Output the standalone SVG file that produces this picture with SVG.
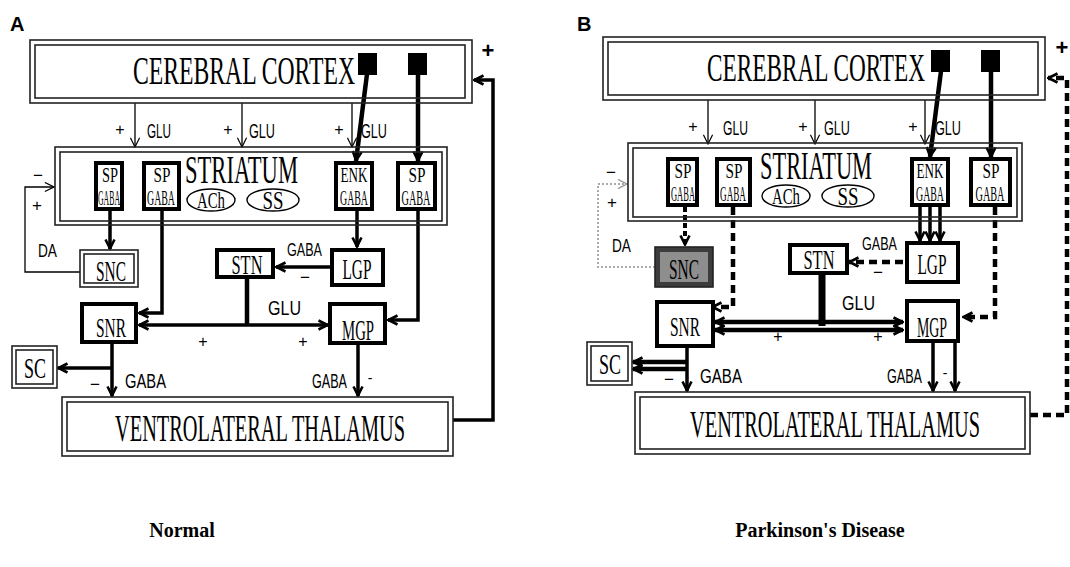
<svg xmlns="http://www.w3.org/2000/svg" width="1070" height="567" viewBox="0 0 1070 567">
<defs>
<style>
.bg{fill:#fff}
.dbl{fill:none;stroke:#222;stroke-width:1.6}
.thk{fill:#fff;stroke:#000;stroke-width:4}
.sq{fill:#000}
.thin{fill:none;stroke:#000;stroke-width:1.3}
.c3{fill:none;stroke:#000;stroke-width:3.5}
.c4{fill:none;stroke:#000;stroke-width:4.5}
.dash{fill:none;stroke:#000;stroke-width:4.5;stroke-dasharray:8 5}
.ell{fill:#fff;stroke:#000;stroke-width:1.4}
.serif{font-family:"Liberation Serif",serif;fill:#000}
.sans{font-family:"Liberation Sans",sans-serif;fill:#000}
.mid{text-anchor:middle}
.sign{font-family:"Liberation Sans",sans-serif;text-anchor:middle;fill:#000}
.panel{font-family:"Liberation Sans",sans-serif;font-weight:bold;font-size:20px;fill:#000}
.cap{font-family:"Liberation Serif",serif;font-weight:bold;font-size:20px;fill:#000;text-anchor:middle}
</style>
<marker id="ah" viewBox="0 0 12 12" refX="11" refY="6" markerWidth="11" markerHeight="11" markerUnits="userSpaceOnUse" orient="auto-start-reverse"><path d="M1,1 L11,6 L1,11" fill="none" stroke="#000" stroke-width="1.3"/></marker>
<marker id="ahB" viewBox="0 0 12 12" refX="11" refY="6" markerWidth="12" markerHeight="12" markerUnits="userSpaceOnUse" orient="auto-start-reverse"><path d="M1.5,1.5 L10.5,6 L1.5,10.5" fill="none" stroke="#000" stroke-width="2.6"/></marker>
<marker id="ahG" viewBox="0 0 12 12" refX="11" refY="6" markerWidth="11" markerHeight="11" markerUnits="userSpaceOnUse" orient="auto"><path d="M1,1 L11,6 L1,11" fill="none" stroke="#999" stroke-width="1.5"/></marker>
</defs>
<rect class="bg" x="0" y="0" width="1070" height="567"/>

<text class="panel" x="10" y="31">A</text>
<text class="panel" x="577" y="31">B</text>

<!-- ================= PANEL A ================= -->
<g id="panelA">
<g id="connectorsA">
  <line class="thin" x1="135" y1="103" x2="135" y2="147" marker-end="url(#ah)"/>
  <line class="thin" x1="242" y1="103" x2="242" y2="147" marker-end="url(#ah)"/>
  <line class="thin" x1="352" y1="103" x2="352" y2="147" marker-end="url(#ah)"/>
  <line class="c4" x1="367" y1="74" x2="356" y2="161" marker-end="url(#ahB)"/>
  <line class="c4" x1="418" y1="74" x2="418" y2="161" marker-end="url(#ahB)"/>
  <line class="c3" x1="110" y1="211" x2="110" y2="249" marker-end="url(#ahB)"/>
  <polyline class="c3" points="162,211 162,313 139,313" marker-end="url(#ahB)"/>
  <line class="c3" x1="357" y1="211" x2="357" y2="247" marker-end="url(#ahB)"/>
  <line class="c3" x1="330" y1="267" x2="276" y2="267" marker-end="url(#ahB)"/>
  <line class="c4" x1="247" y1="279" x2="247" y2="325"/>
  <line class="c3" x1="139" y1="325" x2="328" y2="325" marker-start="url(#ahB)" marker-end="url(#ahB)"/>
  <polyline class="c3" points="418,211 418,320 388,320" marker-end="url(#ahB)"/>
  <line class="c3" x1="112" y1="344" x2="112" y2="396" marker-end="url(#ahB)"/>
  <line class="c3" x1="112" y1="368" x2="58" y2="368" marker-end="url(#ahB)"/>
  <line class="c3" x1="358" y1="345" x2="358" y2="396" marker-end="url(#ahB)"/>
  <polyline class="c3" points="453,420 493,420 493,80 474,80" marker-end="url(#ahB)"/>
  <polyline class="thin" points="80,272 25,272 25,187 54,187" marker-end="url(#ah)"/>
</g>

<g id="cortexA">
  <rect class="dbl" x="30" y="40" width="442" height="63"/>
  <rect class="dbl" x="35" y="45" width="430" height="53"/>
  <text class="serif" x="133" y="84" font-size="39" textLength="222" lengthAdjust="spacingAndGlyphs">CEREBRAL CORTEX</text>
  <rect class="sq" x="358" y="53" width="19" height="22"/>
  <rect class="sq" x="408" y="53" width="19" height="22"/>
</g>

<g id="striatumA">
  <rect class="dbl" x="55" y="147" width="392" height="78"/>
  <rect class="dbl" x="60" y="152" width="382" height="69"/>
  <text class="serif" x="185" y="183" font-size="39" textLength="113" lengthAdjust="spacingAndGlyphs">STRIATUM</text>
  <ellipse class="ell" cx="211" cy="200" rx="24" ry="11"/>
  <text class="serif mid" x="211" y="208" font-size="24" textLength="28" lengthAdjust="spacingAndGlyphs">ACh</text>
  <ellipse class="ell" cx="273" cy="200" rx="26" ry="11"/>
  <text class="serif mid" x="273" y="209" font-size="26" textLength="21" lengthAdjust="spacingAndGlyphs">SS</text>
</g>
<g id="sp1A">
  <rect class="thk" x="96" y="163" width="26" height="46"/>
  <text class="serif mid" x="110" y="182" font-size="21" textLength="16" lengthAdjust="spacingAndGlyphs">SP</text>
  <text class="serif mid" x="109" y="205" font-size="22" textLength="22" lengthAdjust="spacingAndGlyphs">GABA</text>
</g>
<g id="sp2A">
  <rect class="thk" x="144" y="163" width="35" height="46"/>
  <text class="serif mid" x="162" y="182" font-size="21" textLength="17" lengthAdjust="spacingAndGlyphs">SP</text>
  <text class="serif mid" x="161" y="205" font-size="22" textLength="28" lengthAdjust="spacingAndGlyphs">GABA</text>
</g>
<g id="enkA">
  <rect class="thk" x="336" y="163" width="36" height="46"/>
  <text class="serif mid" x="354" y="182" font-size="20" textLength="27" lengthAdjust="spacingAndGlyphs">ENK</text>
  <text class="serif mid" x="354" y="205" font-size="22" textLength="28" lengthAdjust="spacingAndGlyphs">GABA</text>
</g>
<g id="sp3A">
  <rect class="thk" x="398" y="163" width="37" height="46"/>
  <text class="serif mid" x="417" y="182" font-size="21" textLength="17" lengthAdjust="spacingAndGlyphs">SP</text>
  <text class="serif mid" x="416" y="205" font-size="22" textLength="29" lengthAdjust="spacingAndGlyphs">GABA</text>
</g>

<g id="sncA">
  <rect class="dbl" x="80" y="250" width="58" height="37" fill="#fff"/>
  <rect class="dbl" x="84" y="254" width="50" height="29"/>
  <text class="serif mid" x="111" y="281" font-size="30" textLength="30" lengthAdjust="spacingAndGlyphs">SNC</text>
</g>
<g id="stnA">
  <rect class="thk" x="217" y="250" width="56" height="27"/>
  <text class="serif mid" x="247" y="274" font-size="27" textLength="31" lengthAdjust="spacingAndGlyphs">STN</text>
</g>
<g id="lgpA">
  <rect class="thk" x="332" y="250" width="51" height="35"/>
  <text class="serif mid" x="357" y="279" font-size="30" textLength="29" lengthAdjust="spacingAndGlyphs">LGP</text>
</g>
<g id="snrA">
  <rect class="thk" x="82" y="304" width="54" height="38"/>
  <text class="serif mid" x="111" y="337" font-size="27" textLength="30" lengthAdjust="spacingAndGlyphs">SNR</text>
</g>
<g id="mgpA">
  <rect class="thk" x="330" y="304" width="55" height="39"/>
  <text class="serif mid" x="358" y="340" font-size="29" textLength="32" lengthAdjust="spacingAndGlyphs">MGP</text>
</g>
<g id="scA">
  <rect class="dbl" x="12" y="346" width="45" height="42"/>
  <rect class="dbl" x="16" y="350" width="37" height="34"/>
  <text class="serif mid" x="35" y="378" font-size="30" textLength="22" lengthAdjust="spacingAndGlyphs">SC</text>
</g>
<g id="thalamusA">
  <rect class="dbl" x="62" y="397" width="391" height="59"/>
  <rect class="dbl" x="67" y="402" width="381" height="49"/>
  <text class="serif" x="115" y="441" font-size="37" textLength="290" lengthAdjust="spacingAndGlyphs">VENTROLATERAL THALAMUS</text>
</g>

<g id="labelsA">
  <text class="sign" x="120" y="135" font-size="16">+</text>
  <text class="sans" x="147" y="138" font-size="20" textLength="24" lengthAdjust="spacingAndGlyphs">GLU</text>
  <text class="sign" x="228" y="135" font-size="16">+</text>
  <text class="sans" x="249" y="138" font-size="20" textLength="26" lengthAdjust="spacingAndGlyphs">GLU</text>
  <text class="sign" x="339" y="135" font-size="16">+</text>
  <text class="sans" x="361" y="138" font-size="20" textLength="26" lengthAdjust="spacingAndGlyphs">GLU</text>
  <text class="sign" x="38" y="181" font-size="17">−</text>
  <text class="sign" x="37" y="211" font-size="17">+</text>
  <text class="sans" x="38" y="257" font-size="19" textLength="19" lengthAdjust="spacingAndGlyphs">DA</text>
  <text class="sans" x="287" y="256" font-size="18" textLength="35" lengthAdjust="spacingAndGlyphs">GABA</text>
  <text class="sign" x="305" y="283" font-size="17">−</text>
  <text class="sans" x="268" y="315" font-size="21" textLength="33" lengthAdjust="spacingAndGlyphs">GLU</text>
  <text class="sign" x="203" y="347" font-size="16">+</text>
  <text class="sign" x="303" y="347" font-size="16">+</text>
  <text class="sign" x="95" y="390" font-size="17">−</text>
  <text class="sans" x="125" y="388" font-size="20" textLength="41" lengthAdjust="spacingAndGlyphs">GABA</text>
  <text class="sans" x="312" y="388" font-size="20" textLength="35" lengthAdjust="spacingAndGlyphs">GABA</text>
  <text class="sign" x="370" y="383" font-size="14">-</text>
  <text class="sans" x="488" y="58" font-size="22" font-weight="bold" text-anchor="middle">+</text>
</g>
</g>

<!-- ================= PANEL B ================= -->
<g id="panelB" transform="translate(573,-4)">
<g id="connectorsB">
  <line class="thin" x1="135" y1="104" x2="135" y2="148" marker-end="url(#ah)"/>
  <line class="thin" x1="242" y1="104" x2="242" y2="148" marker-end="url(#ah)"/>
  <line class="thin" x1="352" y1="104" x2="352" y2="148" marker-end="url(#ah)"/>
  <line class="c4" x1="368" y1="75" x2="357" y2="161" marker-end="url(#ahB)"/>
  <line class="c4" x1="418" y1="75" x2="418" y2="161" marker-end="url(#ahB)"/>
  <line x1="112" y1="211" x2="112" y2="249" stroke="#000" stroke-width="4" stroke-dasharray="5 3" marker-end="url(#ahB)"/>
  <polyline class="dash" points="160,211 160,311 139,311" marker-end="url(#ahB)"/>
  <line class="c3" x1="347" y1="211" x2="347" y2="245" marker-end="url(#ahB)"/>
  <line class="c3" x1="357" y1="211" x2="357" y2="245" marker-end="url(#ahB)"/>
  <line class="c3" x1="367" y1="211" x2="367" y2="245" marker-end="url(#ahB)"/>
  <line class="dash" x1="330" y1="266" x2="276" y2="266" stroke-dasharray="7 4" marker-end="url(#ahB)"/>
  <line x1="249" y1="277" x2="249" y2="330" stroke="#000" stroke-width="7"/>
  <line class="c4" x1="142" y1="326" x2="330" y2="326" marker-start="url(#ahB)" marker-end="url(#ahB)"/>
  <line class="c4" x1="142" y1="334" x2="330" y2="334" marker-start="url(#ahB)" marker-end="url(#ahB)"/>
  <polyline class="dash" points="422,211 422,321 390,321" marker-end="url(#ahB)"/>
  <line class="c3" x1="114" y1="352" x2="114" y2="395" marker-end="url(#ahB)"/>
  <line class="c4" x1="114" y1="366" x2="60" y2="366" marker-end="url(#ahB)"/>
  <line class="c4" x1="114" y1="373" x2="60" y2="373" marker-end="url(#ahB)"/>
  <line class="c3" x1="360" y1="345" x2="360" y2="395" marker-end="url(#ahB)"/>
  <line class="c3" x1="382" y1="345" x2="382" y2="395" marker-end="url(#ahB)"/>
  <polyline class="dash" points="457,419 494,419 494,82 475,82" stroke-dasharray="9 5" marker-end="url(#ahB)"/>
  <polyline points="82,271 25,271 25,188 54,188" fill="none" stroke="#aaa" stroke-width="2" stroke-dasharray="2 2" marker-end="url(#ahG)"/>
</g>

<g id="cortexB">
  <rect class="dbl" x="30" y="41" width="442" height="63"/>
  <rect class="dbl" x="35" y="46" width="430" height="53"/>
  <text class="serif" x="134" y="85" font-size="39" textLength="218" lengthAdjust="spacingAndGlyphs">CEREBRAL CORTEX</text>
  <rect class="sq" x="358" y="54" width="19" height="22"/>
  <rect class="sq" x="408" y="54" width="19" height="22"/>
</g>

<g id="striatumB">
  <rect class="dbl" x="55" y="147" width="394" height="78"/>
  <rect class="dbl" x="60" y="152" width="384" height="69"/>
  <text class="serif" x="187" y="183" font-size="39" textLength="112" lengthAdjust="spacingAndGlyphs">STRIATUM</text>
  <ellipse class="ell" cx="213" cy="200" rx="24" ry="11"/>
  <text class="serif mid" x="213" y="208" font-size="24" textLength="28" lengthAdjust="spacingAndGlyphs">ACh</text>
  <ellipse class="ell" cx="275" cy="200" rx="26" ry="11"/>
  <text class="serif mid" x="275" y="209" font-size="26" textLength="21" lengthAdjust="spacingAndGlyphs">SS</text>
</g>
<g id="sp1B">
  <rect class="thk" x="95" y="163" width="29" height="46"/>
  <text class="serif mid" x="110" y="182" font-size="21" textLength="17" lengthAdjust="spacingAndGlyphs">SP</text>
  <text class="serif mid" x="110" y="205" font-size="22" textLength="24" lengthAdjust="spacingAndGlyphs">GABA</text>
</g>
<g id="sp2B">
  <rect class="thk" x="144" y="163" width="33" height="46"/>
  <text class="serif mid" x="161" y="182" font-size="21" textLength="17" lengthAdjust="spacingAndGlyphs">SP</text>
  <text class="serif mid" x="160" y="205" font-size="22" textLength="26" lengthAdjust="spacingAndGlyphs">GABA</text>
</g>
<g id="enkB">
  <rect class="thk" x="339" y="163" width="36" height="46"/>
  <text class="serif mid" x="357" y="182" font-size="20" textLength="27" lengthAdjust="spacingAndGlyphs">ENK</text>
  <text class="serif mid" x="357" y="205" font-size="22" textLength="28" lengthAdjust="spacingAndGlyphs">GABA</text>
</g>
<g id="sp3B">
  <rect class="thk" x="398" y="163" width="39" height="46"/>
  <text class="serif mid" x="418" y="182" font-size="21" textLength="17" lengthAdjust="spacingAndGlyphs">SP</text>
  <text class="serif mid" x="417" y="205" font-size="22" textLength="29" lengthAdjust="spacingAndGlyphs">GABA</text>
</g>

<g id="sncB">
  <rect x="82" y="251" width="58" height="40" fill="#3c3c3c" stroke="#222" stroke-width="1.6"/>
  <rect x="87" y="256" width="48" height="30" fill="#8e8e8e"/>
  <text class="serif mid" x="111" y="283" font-size="30" fill="#2a2a2a" textLength="30" lengthAdjust="spacingAndGlyphs">SNC</text>
</g>
<g id="stnB">
  <rect class="thk" x="217" y="249" width="57" height="28"/>
  <text class="serif mid" x="246" y="273" font-size="27" textLength="31" lengthAdjust="spacingAndGlyphs">STN</text>
</g>
<g id="lgpB">
  <rect class="thk" x="334" y="247" width="51" height="39"/>
  <text class="serif mid" x="359" y="278" font-size="30" textLength="29" lengthAdjust="spacingAndGlyphs">LGP</text>
</g>
<g id="snrB">
  <rect class="thk" x="84" y="306" width="56" height="44"/>
  <text class="serif mid" x="112" y="340" font-size="27" textLength="30" lengthAdjust="spacingAndGlyphs">SNR</text>
</g>
<g id="mgpB">
  <rect class="thk" x="334" y="305" width="51" height="40"/>
  <text class="serif mid" x="359" y="341" font-size="29" textLength="30" lengthAdjust="spacingAndGlyphs">MGP</text>
</g>
<g id="scB">
  <rect class="dbl" x="14" y="346" width="45" height="43"/>
  <rect class="dbl" x="18" y="350" width="37" height="35"/>
  <text class="serif mid" x="37" y="378" font-size="30" textLength="22" lengthAdjust="spacingAndGlyphs">SC</text>
</g>
<g id="thalamusB">
  <rect class="dbl" x="62" y="396" width="395" height="62"/>
  <rect class="dbl" x="67" y="401" width="385" height="52"/>
  <text class="serif" x="117" y="441" font-size="37" textLength="290" lengthAdjust="spacingAndGlyphs">VENTROLATERAL THALAMUS</text>
</g>

<g id="labelsB">
  <text class="sign" x="120" y="136" font-size="16">+</text>
  <text class="sans" x="150" y="139" font-size="20" textLength="25" lengthAdjust="spacingAndGlyphs">GLU</text>
  <text class="sign" x="230" y="136" font-size="16">+</text>
  <text class="sans" x="251" y="139" font-size="20" textLength="26" lengthAdjust="spacingAndGlyphs">GLU</text>
  <text class="sign" x="340" y="136" font-size="16">+</text>
  <text class="sans" x="362" y="139" font-size="20" textLength="26" lengthAdjust="spacingAndGlyphs">GLU</text>
  <text class="sign" x="38" y="182" font-size="17">−</text>
  <text class="sign" x="39" y="212" font-size="17">+</text>
  <text class="sans" x="39" y="256" font-size="19" textLength="19" lengthAdjust="spacingAndGlyphs">DA</text>
  <text class="sans" x="289" y="254" font-size="18" textLength="35" lengthAdjust="spacingAndGlyphs">GABA</text>
  <text class="sign" x="305" y="282" font-size="17">−</text>
  <text class="sans" x="269" y="314" font-size="21" textLength="33" lengthAdjust="spacingAndGlyphs">GLU</text>
  <text class="sign" x="205" y="346" font-size="16">+</text>
  <text class="sign" x="305" y="346" font-size="16">+</text>
  <text class="sign" x="96" y="389" font-size="17">−</text>
  <text class="sans" x="127" y="387" font-size="20" textLength="42" lengthAdjust="spacingAndGlyphs">GABA</text>
  <text class="sans" x="314" y="387" font-size="20" textLength="35" lengthAdjust="spacingAndGlyphs">GABA</text>
  <text class="sign" x="372" y="382" font-size="14">-</text>
  <text class="sans" x="489" y="59" font-size="22" font-weight="bold" text-anchor="middle">+</text>
</g>
</g>

<text class="cap" x="182" y="537">Normal</text>
<text class="cap" x="820" y="537">Parkinson's Disease</text>
</svg>
